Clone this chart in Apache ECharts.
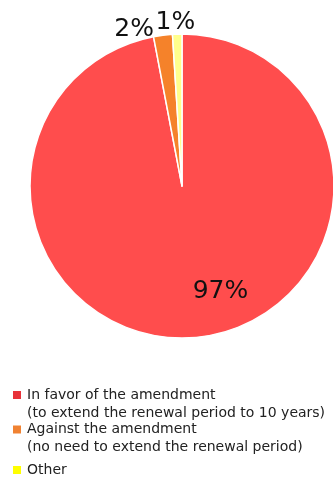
<!DOCTYPE html>
<html>
<head>
<meta charset="utf-8">
<script src="https://cdn.jsdelivr.net/npm/echarts@6/dist/echarts.min.js"></script>
<style>
  html, body { margin: 0; padding: 0; background: #fff; }
  #chart { width: 333px; height: 479px; }
</style>
</head>
<body>
<div id="chart"></div>
<script>
const categories = [
  'In favor of the amendment\n(to extend the renewal period to 10 years)',
  'Against the amendment\n(no need to extend the renewal period)',
  'Other'
]
const shares = [97, 2, 1]
const sliceColors = ['#ff4d4d', '#f5822a', '#ffff8c']
const legendColors = ['#e8323a', '#f08232', '#ffff00']
const labelPositions = ['inside', 'inside', 'outside']
// label nudges to where the original put the text
const labelOffsets = [[31, 27], [-38, -78], [23, -12]]

// legend swatch: square on the first text line, box kept 10x28 so it is not stretched
const iconFirstLine = 'path://M0,0L10,0L10,10L0,10Z M0,28'
const iconMiddle = 'path://M0,0 M0,9L10,9L10,19L0,19Z M0,28'

const chart = echarts.init(document.getElementById('chart'))

chart.setOption({
  animation: false,
  legend: {
    orient: 'vertical',
    left: 11,
    top: 386,
    height: 120,
    padding: 0,
    itemWidth: 10,
    itemHeight: 28,
    itemGap: -1.5,
    textStyle: {
      fontFamily: 'DejaVu Sans',
      fontSize: 14,
      color: '#222',
      lineHeight: 18
    },
    data: categories.map((name, i) => ({
      name: name,
      icon: name.indexOf('\n') > -1 ? iconFirstLine : iconMiddle,
      itemStyle: { color: legendColors[i] }
    }))
  },
  series: [
    {
      type: 'pie',
      center: [182, 186],
      radius: 152,
      startAngle: 90,
      clockwise: true,
      avoidLabelOverlap: false,
      itemStyle: {
        borderColor: '#fff',
        borderWidth: 1.5
      },
      labelLine: { show: false, length: 0, length2: 0 },
      data: categories.map((name, i) => ({
        name: name,
        value: shares[i],
        itemStyle: { color: sliceColors[i] },
        label: {
          show: true,
          position: labelPositions[i],
          formatter: '{c}%',
          fontFamily: 'DejaVu Sans',
          fontSize: 25,
          color: '#111',
          offset: labelOffsets[i]
        }
      }))
    }
  ]
})
</script>
</body>
</html>
